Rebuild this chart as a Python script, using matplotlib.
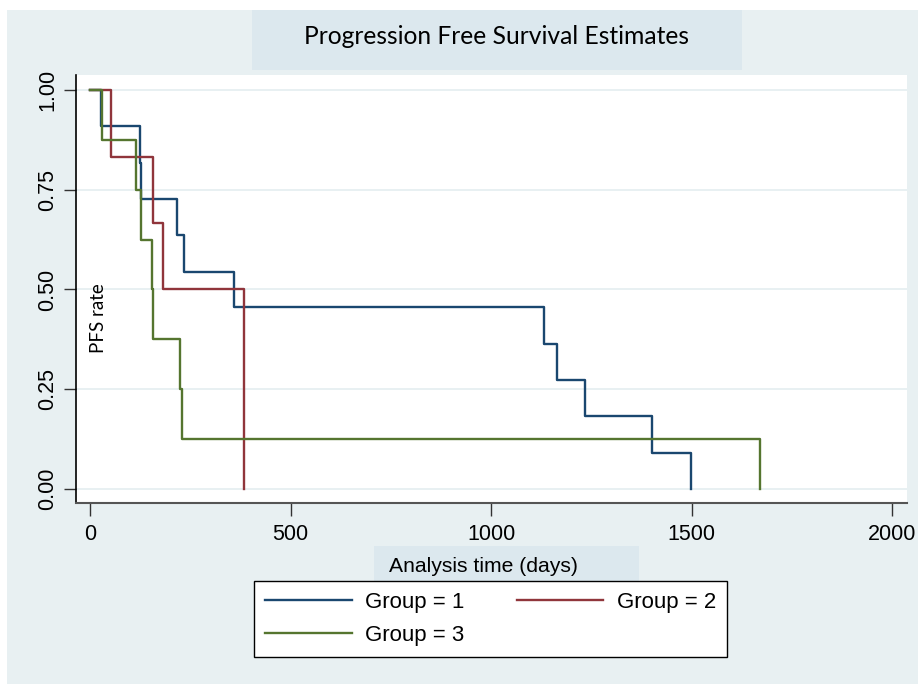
import matplotlib
matplotlib.use("Agg")
import matplotlib.pyplot as plt
from matplotlib.patches import Rectangle

# ---- data ----
g1_time = [0, 27, 125, 127, 217, 234, 359, 1132, 1165, 1234, 1401, 1499]
g1_surv = [1.0, 0.909, 0.818, 0.727, 0.636, 0.545, 0.455, 0.364, 0.273, 0.182, 0.091, 0.0]
g2_time = [0, 52, 157, 182, 383, 385]
g2_surv = [1.0, 0.833, 0.667, 0.5, 0.333, 0.0]
g3_time = [0, 30, 115, 127, 155, 157, 224, 229, 1671]
g3_surv = [1.0, 0.875, 0.75, 0.625, 0.5, 0.375, 0.25, 0.125, 0.0]
labels = ["Group = 1", "Group = 2", "Group = 3"]
x_ticks = [0, 500, 1000, 1500, 2000]
y_ticks = [0.0, 0.25, 0.5, 0.75, 1.0]
y_tick_labels = ["0.00", "0.25", "0.50", "0.75", "1.00"]
title = "Progression Free Survival Estimates"
x_label = "Analysis time (days)"
y_label = "PFS rate"

W, H = 918, 684
fig = plt.figure(figsize=(W / 100, H / 100), dpi=100)
fig.patch.set_facecolor("white")

def fx(px):
    return px / W

def fy(py):
    return 1 - py / H

bg = "#E8F0F2"
box = "#DCE8EE"
fig.patches.append(Rectangle((fx(7), 0), 1 - fx(7), fy(10), transform=fig.transFigure,
                             facecolor=bg, edgecolor="none", zorder=-10))
fig.patches.append(Rectangle((fx(252), fy(70)), fx(742 - 252), (70 - 10) / H,
                             transform=fig.transFigure, facecolor=box, edgecolor="none", zorder=-5))
fig.patches.append(Rectangle((fx(374), fy(588)), fx(639 - 374), (588 - 546) / H,
                             transform=fig.transFigure, facecolor=box, edgecolor="none", zorder=-5))

fig.text(fx(497), fy(37), title, ha="center", va="center", fontsize=17.7,
         family="Lato", color="black")
fig.text(fx(483), fy(567), x_label, ha="center", va="center", fontsize=15.2,
         family="Liberation Sans", color="black")

ax = fig.add_axes([fx(76), fy(503), fx(907 - 76), (503 - 75) / H])
ax.set_facecolor("white")

c1, c2, c3 = "#1A476F", "#90353B", "#55752F"
lw = 1.7
l1, = ax.step(g1_time, g1_surv, where="post", color=c1, lw=lw, label=labels[0], zorder=3)
l2, = ax.step(g2_time, g2_surv, where="post", color=c2, lw=lw, label=labels[1], zorder=3)
l3, = ax.step(g3_time, g3_surv, where="post", color=c3, lw=lw, label=labels[2], zorder=3)

ax.set_xlim(-35, 2037)
ax.set_ylim(-0.0351, 1.0376)
ax.set_xticks(x_ticks)
ax.set_xticklabels([str(t) for t in x_ticks], fontsize=15.5, family="Liberation Sans")
ax.set_yticks(y_ticks)
ax.set_yticklabels(y_tick_labels, fontsize=15.5, family="Liberation Sans",
                   rotation=90, va="center")
ax.tick_params(axis="both", length=9, width=1, color="#333333", pad=4)
ax.tick_params(axis="x", pad=6)
ax.grid(axis="y", color="#E4EDF0", lw=1.2, zorder=0)
ax.set_axisbelow(True)
for s in ["top", "right"]:
    ax.spines[s].set_visible(False)
ax.spines["left"].set_color("black")
ax.spines["bottom"].set_color("#555555")
ax.spines["left"].set_linewidth(1.2)
ax.spines["bottom"].set_linewidth(1.5)

ax.text(0.0265, 0.432, y_label, transform=ax.transAxes, rotation=90, ha="center",
        va="center", fontsize=13.5, family="Lato", color="black")

leg = fig.legend([l1, l3, l2], [labels[0], labels[2], labels[1]], ncol=2,
                 loc="lower left",
                 bbox_to_anchor=(fx(254), fy(657), fx(727 - 254), (657 - 581) / H),
                 mode="expand", borderaxespad=0, frameon=True, fancybox=False,
                 edgecolor="black",
                 handlelength=3.9, handletextpad=0.6, labelspacing=0.55,
                 borderpad=0.5, prop={"family": "Liberation Sans", "size": 16})
leg.get_frame().set_linewidth(1.0)
leg.get_frame().set_facecolor("white")
leg.get_frame().set_alpha(1)
leg.set_zorder(10)

fig.savefig("out.png", dpi=100, facecolor=fig.get_facecolor())
